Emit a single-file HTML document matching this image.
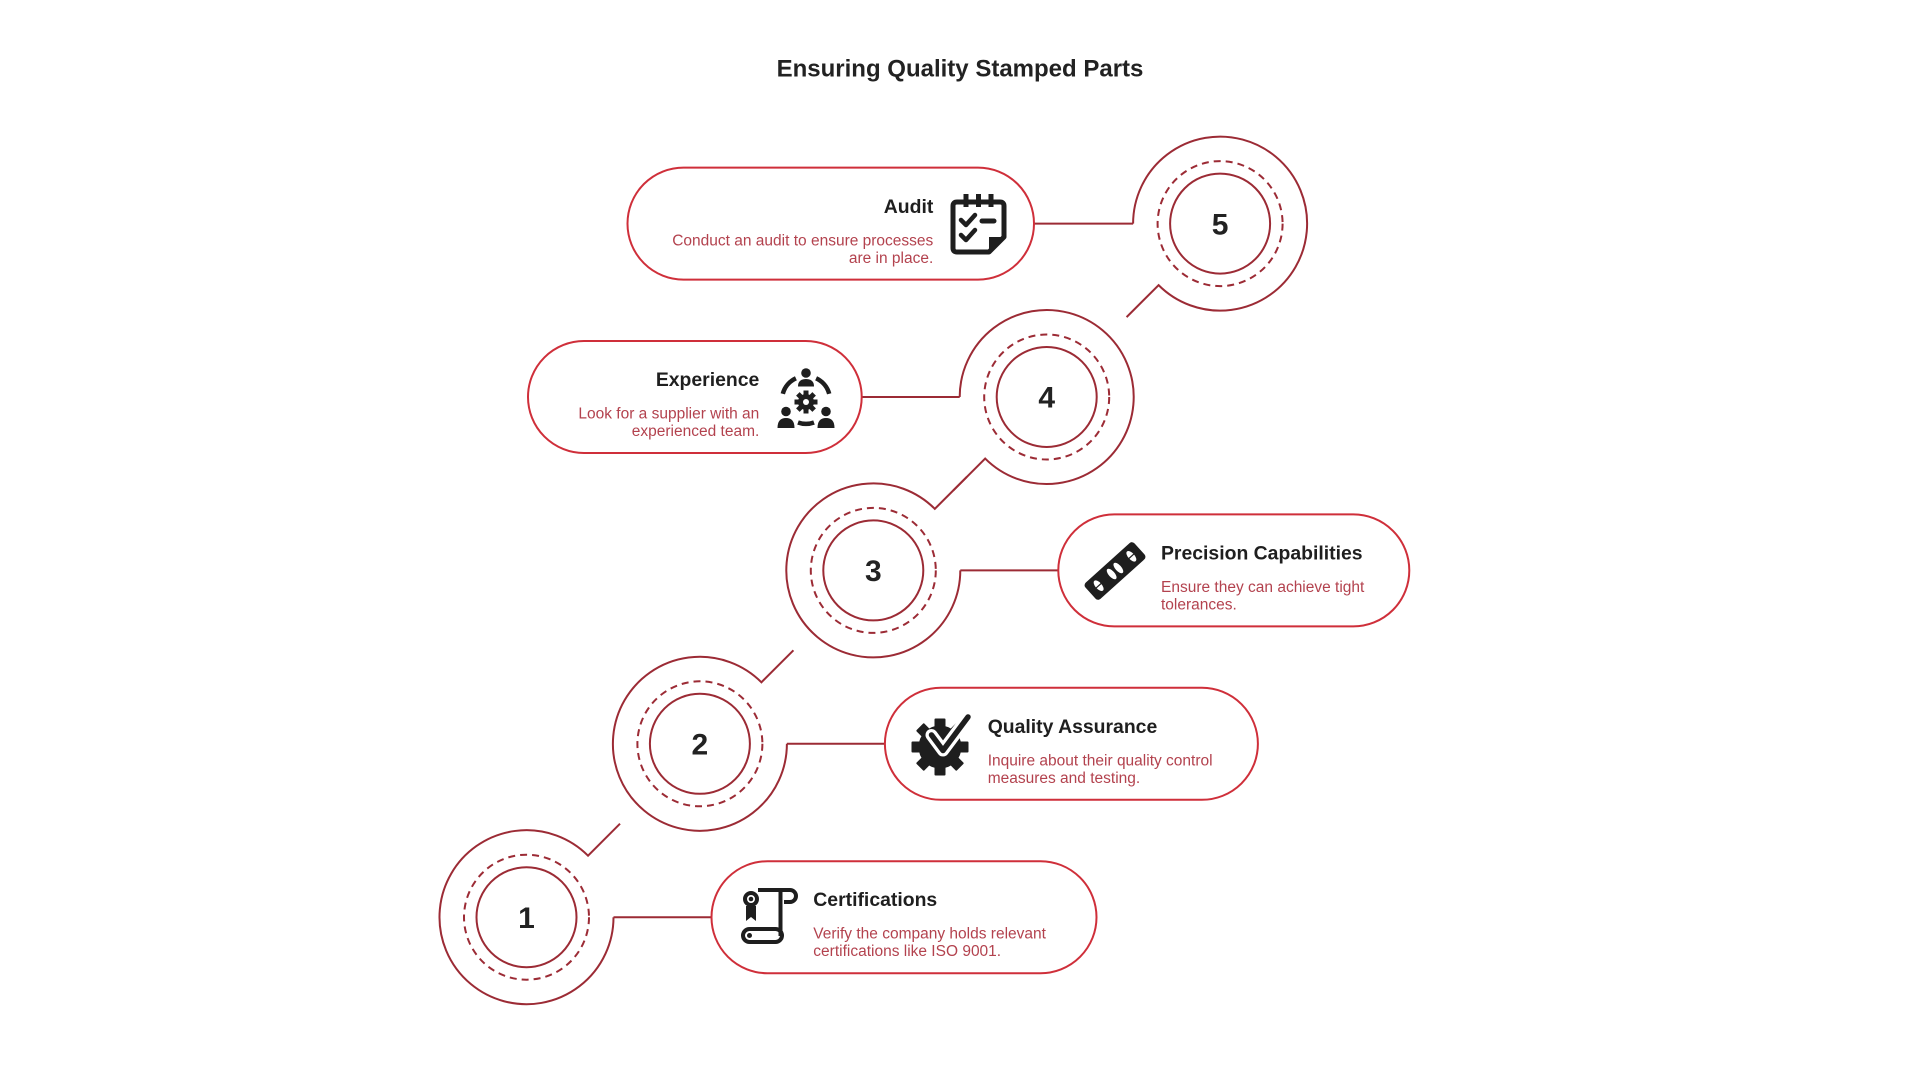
<!DOCTYPE html>
<html>
<head>
<meta charset="utf-8">
<style>
  html, body { margin: 0; padding: 0; background: #ffffff; }
  body { width: 1920px; height: 1080px; overflow: hidden; }
  svg { display: block; }
  .t { font-family: "Liberation Sans", Arial, sans-serif; font-weight: bold; font-size: 19.4px; fill: #1f1f1f; }
  .d { font-family: "Liberation Sans", Arial, sans-serif; font-size: 15.5px; fill: #b3424e; }
  .n { font-family: "Liberation Sans", Arial, sans-serif; font-weight: bold; font-size: 30px; fill: #222222; }
  .ring { fill: none; stroke: #9c2b35; stroke-width: 2; }
  .dash { fill: none; stroke: #9c2b35; stroke-width: 2; stroke-dasharray: 7 5; }
  .pill { fill: #ffffff; stroke: #cf2f3a; stroke-width: 2; }
  .ic { fill: none; stroke: #1e1e1e; }
</style>
</head>
<body>
<svg width="1920" height="1080" viewBox="0 0 1920 1080" xmlns="http://www.w3.org/2000/svg">
  <rect x="0" y="0" width="1920" height="1080" fill="#ffffff"/>

  <!-- Title -->
  <text x="960" y="76.7" text-anchor="middle" font-family="Liberation Sans, Arial, sans-serif" font-weight="bold" font-size="24" fill="#222222">Ensuring Quality Stamped Parts</text>

  <!-- ===== Circle 5 (pill on left) ===== -->
  <path class="ring" d="M1133.1 223.6 A87 87 0 1 1 1158.58 285.12 L1126.58 317.12"/>
  <path class="ring" d="M1034 223.6 H1133.1"/>
  <circle class="dash" cx="1220.1" cy="223.6" r="62.5"/>
  <circle class="ring" cx="1220.1" cy="223.6" r="50"/>
  <text class="n" x="1220.1" y="234.3" text-anchor="middle">5</text>

  <!-- ===== Circle 4 (pill on left) ===== -->
  <path class="ring" d="M959.7 397 A87 87 0 1 1 985.18 458.52 L953.18 490.52"/>
  <path class="ring" d="M861.7 397 H959.7"/>
  <circle class="dash" cx="1046.7" cy="397" r="62.5"/>
  <circle class="ring" cx="1046.7" cy="397" r="50"/>
  <text class="n" x="1046.7" y="407.7" text-anchor="middle">4</text>

  <!-- ===== Circle 3 (pill on right) ===== -->
  <path class="ring" d="M960.3 570.4 A87 87 0 1 1 934.82 508.88 L966.82 476.88"/>
  <path class="ring" d="M960.3 570.4 H1058.3"/>
  <circle class="dash" cx="873.3" cy="570.4" r="62.5"/>
  <circle class="ring" cx="873.3" cy="570.4" r="50"/>
  <text class="n" x="873.3" y="581.1" text-anchor="middle">3</text>

  <!-- ===== Circle 2 (pill on right) ===== -->
  <path class="ring" d="M786.9 743.8 A87 87 0 1 1 761.42 682.28 L793.42 650.28"/>
  <path class="ring" d="M786.9 743.8 H884.9"/>
  <circle class="dash" cx="699.9" cy="743.8" r="62.5"/>
  <circle class="ring" cx="699.9" cy="743.8" r="50"/>
  <text class="n" x="699.9" y="754.5" text-anchor="middle">2</text>

  <!-- ===== Circle 1 (pill on right) ===== -->
  <path class="ring" d="M613.5 917.2 A87 87 0 1 1 588.02 855.68 L620.02 823.68"/>
  <path class="ring" d="M613.5 917.2 H711.5"/>
  <circle class="dash" cx="526.5" cy="917.2" r="62.5"/>
  <circle class="ring" cx="526.5" cy="917.2" r="50"/>
  <text class="n" x="526.5" y="927.9" text-anchor="middle">1</text>

  <!-- ===== Pills ===== -->
  <rect class="pill" x="627.5" y="167.6" width="406.5" height="112" rx="56" ry="56"/>
  <rect class="pill" x="528" y="341" width="333.7" height="112" rx="56" ry="56"/>
  <rect class="pill" x="1058.3" y="514.4" width="351" height="112" rx="56" ry="56"/>
  <rect class="pill" x="884.9" y="687.8" width="373" height="112" rx="56" ry="56"/>
  <rect class="pill" x="711.5" y="861.2" width="385" height="112" rx="56" ry="56"/>

  <!-- ===== Texts ===== -->
  <text class="t" x="933.3" y="213" text-anchor="end">Audit</text>
  <text class="d" x="933.3" y="245.5" text-anchor="end">Conduct an audit to ensure processes</text>
  <text class="d" x="933.3" y="263" text-anchor="end">are in place.</text>

  <text class="t" x="759.3" y="386" text-anchor="end">Experience</text>
  <text class="d" x="759.3" y="418.5" text-anchor="end">Look for a supplier with an</text>
  <text class="d" x="759.3" y="436" text-anchor="end">experienced team.</text>

  <text class="t" x="1161" y="559.4">Precision Capabilities</text>
  <text class="d" x="1161" y="591.9">Ensure they can achieve tight</text>
  <text class="d" x="1161" y="609.4">tolerances.</text>

  <text class="t" x="987.7" y="732.8">Quality Assurance</text>
  <text class="d" x="987.7" y="765.3">Inquire about their quality control</text>
  <text class="d" x="987.7" y="782.8">measures and testing.</text>

  <text class="t" x="813.3" y="906.2">Certifications</text>
  <text class="d" x="813.3" y="938.7">Verify the company holds relevant</text>
  <text class="d" x="813.3" y="956.2">certifications like ISO 9001.</text>

  <!-- ===== Icon: Audit (clipboard) ===== -->
  <g transform="translate(950,193)">
    <path class="ic" stroke-width="5" stroke-linejoin="round" d="M7,9 H50 Q54,9 54,13 V44 L39,59 H7 Q3,59 3,55 V13 Q3,9 7,9 Z"/>
    <path d="M54,44 L39,44 L39,59 Z" fill="#1e1e1e"/>
    <path class="ic" stroke-width="5" d="M16,1 V14 M28.5,1 V14 M41,1 V14"/>
    <path class="ic" stroke-width="4.5" stroke-linecap="round" stroke-linejoin="round" d="M11,27 L16,32 L25,22"/>
    <path class="ic" stroke-width="4.5" stroke-linecap="round" stroke-linejoin="round" d="M11,42 L16,47 L25,37"/>
    <path class="ic" stroke-width="5" stroke-linecap="round" d="M32,28 H44"/>
  </g>

  <!-- ===== Icon: Experience (people + gear) ===== -->
  <g transform="translate(777,368)">
    <circle cx="29" cy="5" r="4.8" fill="#1e1e1e"/>
    <path d="M21,18.5 Q21,11 29,11 Q37,11 37,18.5 Z" fill="#1e1e1e"/>
    <circle cx="9" cy="43.5" r="4.8" fill="#1e1e1e"/>
    <path d="M0.5,60 Q0.5,50 9,50 Q17.5,50 17.5,60 Z" fill="#1e1e1e"/>
    <circle cx="49" cy="43.5" r="4.8" fill="#1e1e1e"/>
    <path d="M40.5,60 Q40.5,50 49,50 Q57.5,50 57.5,60 Z" fill="#1e1e1e"/>
    <path class="ic" stroke-width="4.5" d="M5.8,25.8 A24 24 0 0 1 18.9,10.3"/>
    <path class="ic" stroke-width="4.5" d="M39.1,10.3 A24 24 0 0 1 52.2,25.8"/>
    <path class="ic" stroke-width="4.5" d="M21,54.5 A24 24 0 0 0 37,54.5"/>
    <g transform="translate(29,34)">
      <circle r="8" fill="#1e1e1e"/>
      <rect x="-2.5" y="-11.5" width="5" height="6" fill="#1e1e1e"/>
      <rect x="-2.5" y="-11.5" width="5" height="6" fill="#1e1e1e" transform="rotate(45)"/>
      <rect x="-2.5" y="-11.5" width="5" height="6" fill="#1e1e1e" transform="rotate(90)"/>
      <rect x="-2.5" y="-11.5" width="5" height="6" fill="#1e1e1e" transform="rotate(135)"/>
      <rect x="-2.5" y="-11.5" width="5" height="6" fill="#1e1e1e" transform="rotate(180)"/>
      <rect x="-2.5" y="-11.5" width="5" height="6" fill="#1e1e1e" transform="rotate(225)"/>
      <rect x="-2.5" y="-11.5" width="5" height="6" fill="#1e1e1e" transform="rotate(270)"/>
      <rect x="-2.5" y="-11.5" width="5" height="6" fill="#1e1e1e" transform="rotate(315)"/>
      <circle r="3" fill="#ffffff"/>
    </g>
  </g>

  <!-- ===== Icon: Precision (level bar) ===== -->
  <g transform="translate(1115,571) rotate(-42)">
    <rect x="-33" y="-11" width="66" height="22" rx="3.5" fill="#1e1e1e"/>
    <ellipse cx="-22" cy="0" rx="3.2" ry="6.5" fill="#ffffff"/>
    <line x1="-25.5" y1="0" x2="-18.5" y2="0" stroke="#1e1e1e" stroke-width="1.2"/>
    <ellipse cx="-4.5" cy="0" rx="3" ry="6.5" fill="#ffffff"/>
    <ellipse cx="4.5" cy="0" rx="3" ry="6.5" fill="#ffffff"/>
    <ellipse cx="22" cy="0" rx="3.2" ry="6.5" fill="#ffffff"/>
    <line x1="18.5" y1="0" x2="25.5" y2="0" stroke="#1e1e1e" stroke-width="1.2"/>
  </g>

  <!-- ===== Icon: Quality Assurance (gear + check) ===== -->
  <g transform="translate(940,747)">
    <circle r="21.5" fill="#1e1e1e"/>
    <rect x="-5.5" y="-28.5" width="11" height="10" rx="1" fill="#1e1e1e"/>
    <rect x="-5.5" y="-28.5" width="11" height="10" rx="1" fill="#1e1e1e" transform="rotate(45)"/>
    <rect x="-5.5" y="-28.5" width="11" height="10" rx="1" fill="#1e1e1e" transform="rotate(90)"/>
    <rect x="-5.5" y="-28.5" width="11" height="10" rx="1" fill="#1e1e1e" transform="rotate(135)"/>
    <rect x="-5.5" y="-28.5" width="11" height="10" rx="1" fill="#1e1e1e" transform="rotate(180)"/>
    <rect x="-5.5" y="-28.5" width="11" height="10" rx="1" fill="#1e1e1e" transform="rotate(225)"/>
    <rect x="-5.5" y="-28.5" width="11" height="10" rx="1" fill="#1e1e1e" transform="rotate(270)"/>
    <rect x="-5.5" y="-28.5" width="11" height="10" rx="1" fill="#1e1e1e" transform="rotate(315)"/>
  </g>
  <path d="M931.5,735 L943,750.5 L968,717" fill="none" stroke="#ffffff" stroke-width="12" stroke-linecap="round" stroke-linejoin="round"/>
  <path d="M931.5,735 L943,750.5 L968,717" fill="none" stroke="#1e1e1e" stroke-width="5.5" stroke-linecap="round" stroke-linejoin="round"/>

  <!-- ===== Icon: Certifications (scroll + medal) ===== -->
  <g transform="translate(737,885)">
    <circle cx="14" cy="14" r="6" class="ic" stroke-width="4"/>
    <circle cx="14" cy="14" r="2.3" fill="#1e1e1e"/>
    <path d="M9,21 V36 L14,32 L19,36 V21 Z" fill="#1e1e1e"/>
    <path class="ic" stroke-width="4" stroke-linejoin="round" d="M21,5 H53 A6,6 0 0 1 53,17 H47"/>
    <path class="ic" stroke-width="4" d="M43.5,5 V51"/>
    <rect x="6" y="44" width="39" height="13" rx="6.5" class="ic" stroke-width="4"/>
    <circle cx="12.5" cy="50.5" r="2.5" fill="#1e1e1e"/>
  </g>
</svg>
</body>
</html>
